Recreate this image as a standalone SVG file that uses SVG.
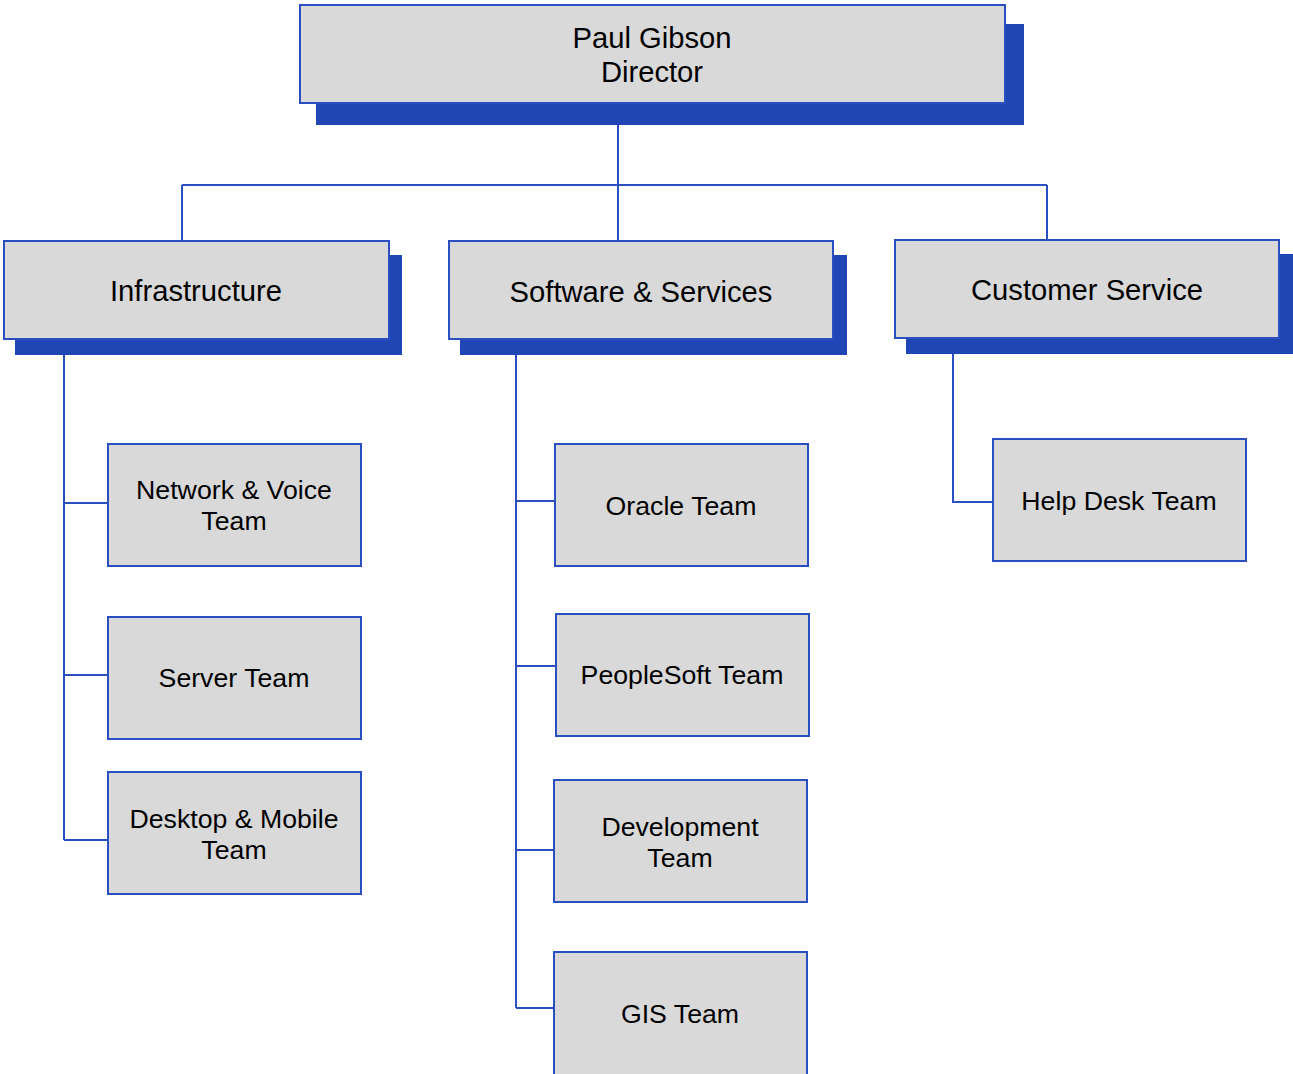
<svg xmlns="http://www.w3.org/2000/svg" width="1293" height="1074" viewBox="0 0 1293 1074">
<style>
.box{fill:#d9d9d9;stroke:#2b4fc0;stroke-width:2}
.sh{fill:#1f46b4}
.ln{fill:none;stroke:#2b4fc0;stroke-width:2}
text{font-family:"Liberation Sans",Arial,sans-serif;fill:#000;text-anchor:middle}
.t1{font-size:29.2px}
.t3{font-size:26.7px}
</style>
<rect width="1293" height="1074" fill="#fff"/>
<g id="connectors">
<path class="ln" d="M618 125V185M182 185H1047M182 185V241M618 185V241M1047 185V240"/>
<path class="ln" d="M64 355V840M64 503H108M64 675H108M64 840H108"/>
<path class="ln" d="M516 355V1008M516 501H555M516 666H556M516 850H554M516 1008H554"/>
<path class="ln" d="M953 354V502H993"/>
</g>
<g id="director">
<rect class="sh" x="316" y="24" width="708" height="101"/>
<rect class="box" x="300" y="5" width="705" height="98"/>
<text class="t1" x="652" y="48">Paul Gibson</text>
<text class="t1" x="652" y="82">Director</text>
</g>
<g id="infrastructure">
<rect class="sh" x="15" y="255" width="387" height="100"/>
<rect class="box" x="4" y="241" width="385" height="98"/>
<text class="t1" x="196" y="301">Infrastructure</text>
</g>
<g id="software">
<rect class="sh" x="460" y="255" width="387" height="100"/>
<rect class="box" x="449" y="241" width="384" height="98"/>
<text class="t1" x="641" y="302">Software &amp; Services</text>
</g>
<g id="customer">
<rect class="sh" x="906" y="254" width="387" height="100"/>
<rect class="box" x="895" y="240" width="384" height="98"/>
<text class="t1" x="1087" y="300">Customer Service</text>
</g>
<g id="network">
<rect class="box" x="108" y="444" width="253" height="122"/>
<text class="t3" x="234" y="499">Network &amp; Voice</text>
<text class="t3" x="234" y="530">Team</text>
</g>
<g id="server">
<rect class="box" x="108" y="617" width="253" height="122"/>
<text class="t3" x="234" y="687">Server Team</text>
</g>
<g id="desktop">
<rect class="box" x="108" y="772" width="253" height="122"/>
<text class="t3" x="234" y="828">Desktop &amp; Mobile</text>
<text class="t3" x="234" y="859">Team</text>
</g>
<g id="oracle">
<rect class="box" x="555" y="444" width="253" height="122"/>
<text class="t3" x="681" y="515">Oracle Team</text>
</g>
<g id="peoplesoft">
<rect class="box" x="556" y="614" width="253" height="122"/>
<text class="t3" x="682" y="684">PeopleSoft Team</text>
</g>
<g id="development">
<rect class="box" x="554" y="780" width="253" height="122"/>
<text class="t3" x="680" y="836">Development</text>
<text class="t3" x="680" y="867">Team</text>
</g>
<g id="gis">
<rect class="box" x="554" y="952" width="253" height="130"/>
<text class="t3" x="680" y="1023">GIS Team</text>
</g>
<g id="helpdesk">
<rect class="box" x="993" y="439" width="253" height="122"/>
<text class="t3" x="1119" y="510">Help Desk Team</text>
</g>
</svg>
